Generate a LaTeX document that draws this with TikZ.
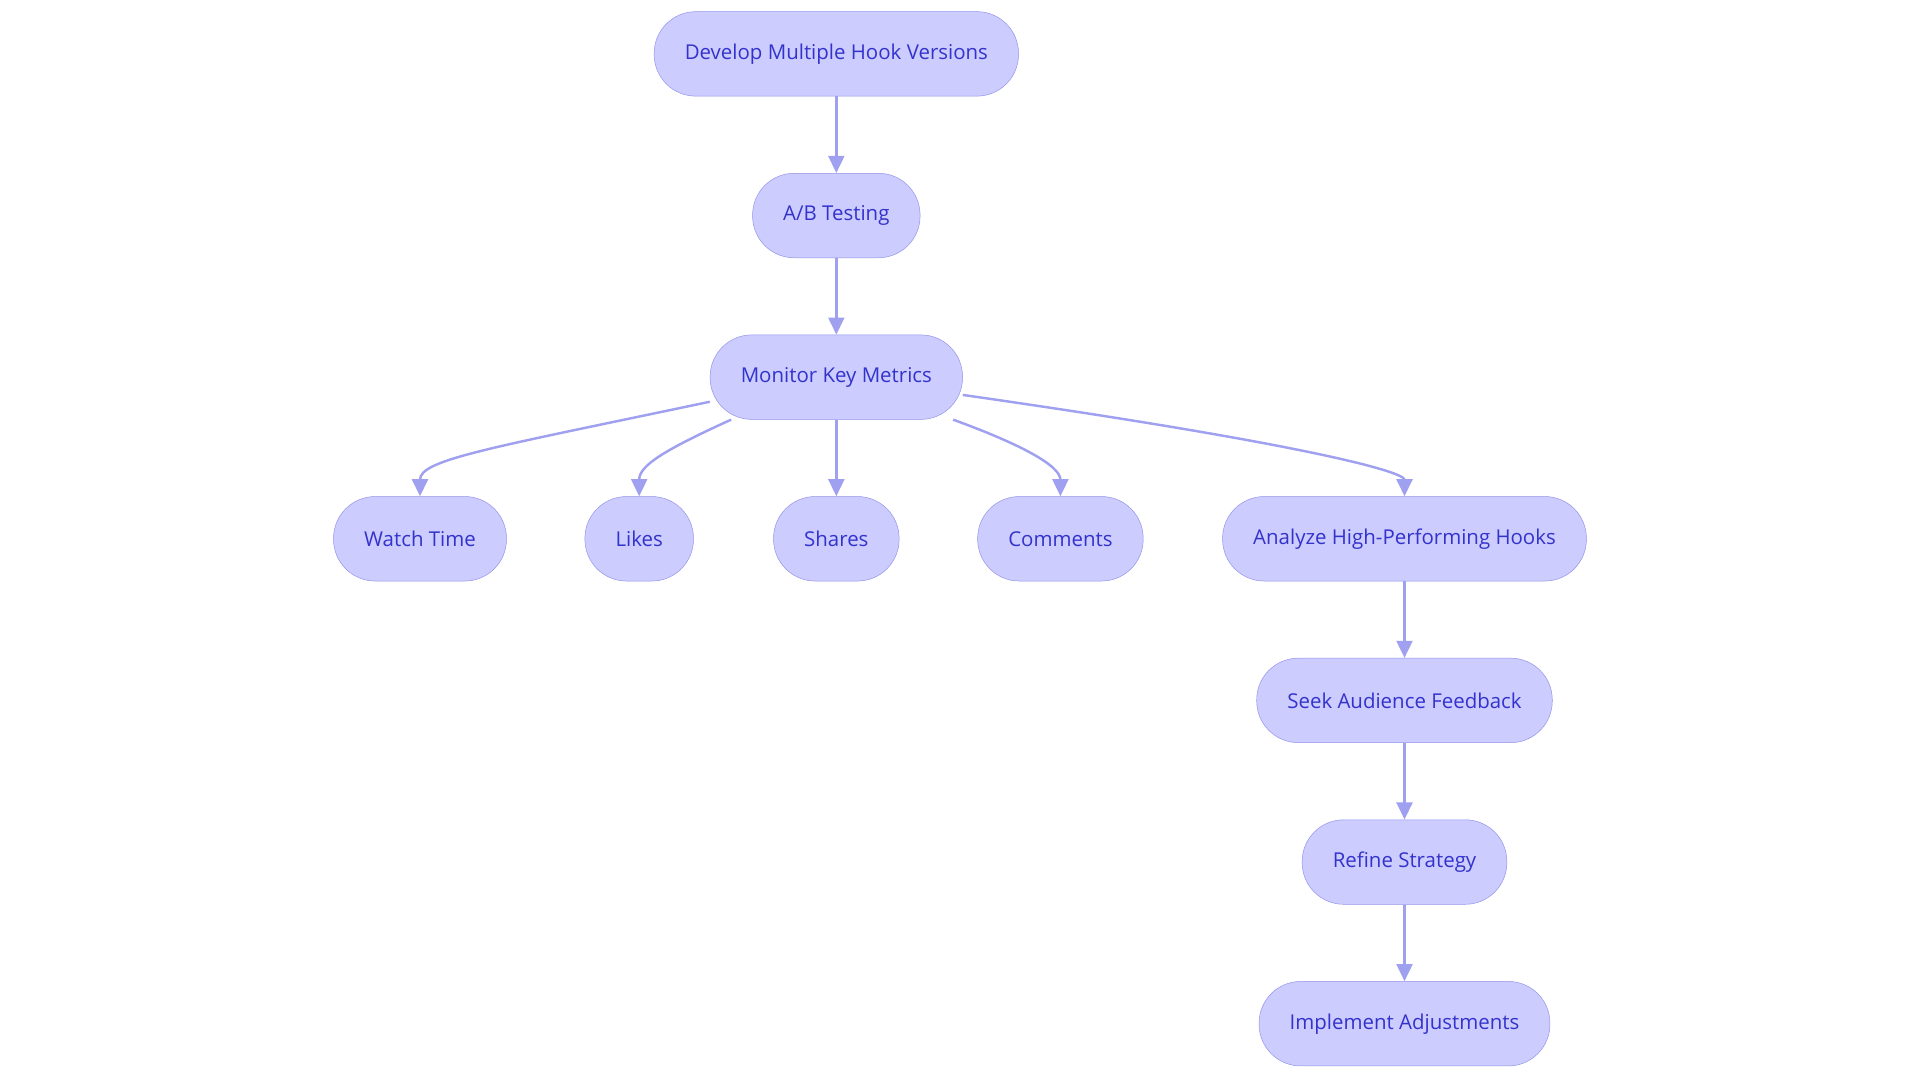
\documentclass[tikz,border=0pt]{standalone}
\usepackage{fontspec}
\setmainfont{Open Sans}
\usetikzlibrary{arrows.meta}
\definecolor{boxfill}{RGB}{204,204,255}
\definecolor{boxline}{RGB}{147,147,232}
\definecolor{boxtext}{RGB}{51,51,204}
\definecolor{arrowline}{RGB}{160,160,240}

\begin{document}
\begin{tikzpicture}
  [x=1pt,y=-1pt,
   every node/.style={rectangle,rounded corners=34pt,draw=boxline,fill=boxfill,text=boxtext,
     minimum height=69pt,inner xsep=25pt,font=\fontsize{16.7}{19}\selectfont},
   link/.style={draw=arrowline,line width=2pt,-{Triangle[length=14pt,width=13pt]}}]
  \useasboundingbox (0,0) rectangle (1568,884);
  \node (hook)   at (683,44)   {Develop Multiple Hook Versions};
  \node (ab)     at (683,176)  {A/B Testing};
  \node (mon)    at (683,308)  {Monitor Key Metrics};
  \node (watch)  at (343,440)  {Watch Time};
  \node (likes)  at (522,440)  {Likes};
  \node (shares) at (683,440)  {Shares};
  \node (comm)   at (866,440)  {Comments};
  \node (anal)   at (1147,440) {Analyze High-Performing Hooks};
  \node (seek)   at (1147,572) {Seek Audience Feedback};
  \node (refine) at (1147,704) {Refine Strategy};
  \node (impl)   at (1147,836) {Implement Adjustments};

  \foreach \from/\to in {hook/ab,ab/mon,mon/shares,anal/seek,seek/refine,refine/impl}
    \draw[link] (\from) -- (\to);
  \draw[link] (mon.191) .. controls +(-180,38) and +(0,-30) .. (watch.north);
  \draw[link] (mon.202) .. controls +(-55,25) and +(0,-25) .. (likes.north);
  \draw[link] (mon.340) .. controls +(55,20) and +(0,-25) .. (comm.north);
  \draw[link] (mon.352) .. controls +(280,40) and +(0,-20) .. (anal.north);
\end{tikzpicture}
\end{document}
